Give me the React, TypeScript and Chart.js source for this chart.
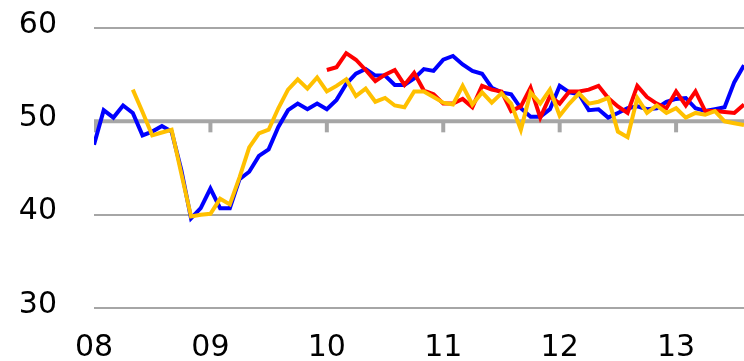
import React, { useEffect, useRef } from "react";
import { Chart, registerables } from "chart.js";

Chart.register(...registerables);

// Month index 0 = Jan 2008 ... 67 = Aug 2013
const yearTickIndex = [0, 12, 24, 36, 48, 60];
const yearTickLabels = ["08", "09", "10", "11", "12", "13"];
const yTicks = [30, 40, 50, 60];

const blueValues: (number | null)[] = [
  47.5, 51.2, 50.4, 51.7, 50.9, 48.5, 48.9, 49.5, 48.9, 44.8, 39.6, 40.7,
  42.8, 40.7, 40.7, 43.8, 44.6, 46.3, 47.0, 49.4, 51.2, 51.9, 51.3, 51.9,
  51.3, 52.3, 54.0, 55.1, 55.6, 54.9, 54.9, 53.9, 53.9, 54.6, 55.6, 55.4,
  56.6, 57.0, 56.1, 55.4, 55.1, 53.6, 53.1, 52.9, 51.4, 50.5, 50.5, 51.3,
  53.8, 53.1, 52.9, 51.2, 51.3, 50.4, 50.9, 51.4, 51.6, 51.3, 51.4, 52.1,
  52.4, 52.5, 51.4, 51.1, 51.3, 51.5, 54.2, 56.0,
];

const redValues: (number | null)[] = [
  null, null, null, null, null, null, null, null, null, null, null, null,
  null, null, null, null, null, null, null, null, null, null, null, null,
  55.5, 55.8, 57.3, 56.6, 55.5, 54.3, 55.0, 55.5, 53.9, 55.2, 53.3, 52.9,
  51.9, 51.9, 52.4, 51.5, 53.8, 53.4, 53.2, 51.1, 51.6, 53.6, 50.4, 52.7,
  51.9, 53.2, 53.2, 53.4, 53.8, 52.5, 51.6, 50.9, 53.8, 52.6, 51.9, 51.4,
  53.2, 51.7, 53.2, 51.1, 51.1, 51.0, 50.9, 51.8,
];

const yellowValues: (number | null)[] = [
  null, null, null, null, 53.4, 51.0, 48.5, 48.8, 49.1, 44.4, 39.8, 40.0,
  40.1, 41.7, 41.1, 44.0, 47.2, 48.7, 49.1, 51.4, 53.4, 54.5, 53.5, 54.7,
  53.2, 53.8, 54.5, 52.7, 53.5, 52.1, 52.5, 51.7, 51.5, 53.2, 53.2, 52.6,
  52.0, 51.8, 53.8, 51.8, 53.1, 52.0, 53.0, 51.9, 49.1, 53.1, 51.9, 53.4,
  50.6, 51.9, 53.0, 51.9, 52.1, 52.5, 48.9, 48.3, 52.5, 50.9, 51.7, 50.9,
  51.4, 50.4, 50.9, 50.7, 51.1, 50.0, 49.8, 49.6,
];

const GRID = "#a6a6a6";
const FONT = "DejaVu Sans";

const toPoints = (vals: (number | null)[]) =>
  vals.map((v, i) => ({ x: i, y: v }));

const baselinePlugin = {
  id: "baseline50",
  beforeDatasetsDraw(chart: any) {
    const { ctx, scales, chartArea } = chart;
    const y = scales.y.getPixelForValue(50);
    ctx.save();
    ctx.strokeStyle = GRID;
    ctx.lineWidth = 4;
    ctx.beginPath();
    ctx.moveTo(chartArea.left, y);
    ctx.lineTo(chartArea.right, y);
    ctx.stroke();
    yearTickIndex.forEach((t) => {
      const x = Math.max(scales.x.getPixelForValue(t), chartArea.left + 2);
      ctx.beginPath();
      ctx.moveTo(x, y);
      ctx.lineTo(x, y + 11);
      ctx.stroke();
    });
    ctx.restore();
  },
};

export default function App() {
  const ref = useRef<HTMLCanvasElement | null>(null);

  useEffect(() => {
    if (!ref.current) return;
    const chart = new Chart(ref.current, {
      type: "line",
      data: {
        datasets: [
          {
            data: toPoints(yellowValues),
            borderColor: "#ffc000",
            borderWidth: 4,
            pointRadius: 0,
            order: 1,
          },
          {
            data: toPoints(redValues),
            borderColor: "#ff0000",
            borderWidth: 4,
            pointRadius: 0,
            order: 2,
          },
          {
            data: toPoints(blueValues),
            borderColor: "#0000ff",
            borderWidth: 4,
            pointRadius: 0,
            order: 3,
          },
        ],
      },
      options: {
        responsive: false,
        animation: false,
        devicePixelRatio: 1,
        layout: { padding: { top: 28, right: 0, left: 0, bottom: 0 } },
        plugins: { legend: { display: false }, tooltip: { enabled: false } },
        scales: {
          x: {
            type: "linear",
            min: 0,
            max: 67,
            grid: { display: false },
            border: { display: false },
            afterBuildTicks: (scale: any) => {
              scale.ticks = yearTickIndex.map((v) => ({ value: v }));
            },
            afterFit: (scale: any) => {
              scale.height = 53;
              scale.paddingLeft = 0;
              scale.paddingRight = 0;
            },
            ticks: {
              autoSkip: false,
              maxRotation: 0,
              padding: 14,
              color: "#000",
              font: { family: FONT, size: 30 },
              callback: (v: any) => {
                const i = yearTickIndex.indexOf(Number(v));
                return i >= 0 ? yearTickLabels[i] : "";
              },
            },
          },
          y: {
            min: 30,
            max: 60,
            afterBuildTicks: (scale: any) => {
              scale.ticks = yTicks.map((v) => ({ value: v }));
            },
            afterFit: (scale: any) => {
              scale.width = 94;
              scale.paddingTop = 0;
              scale.paddingBottom = 0;
            },
            grid: {
              color: (c: any) => (c.tick && c.tick.value === 50 ? "rgba(0,0,0,0)" : GRID),
              lineWidth: 2,
              drawTicks: false,
            },
            border: { display: false },
            ticks: {
              padding: 37,
              labelOffset: -3,
              color: "#000",
              font: { family: FONT, size: 30 },
            },
          },
        },
      },
      plugins: [baselinePlugin],
    } as any);
    return () => chart.destroy();
  }, []);

  return (
    <div style={{ position: "fixed", left: 0, top: 0, width: 744, height: 361, background: "#fff" }}>
      <canvas ref={ref} width={744} height={361} style={{ display: "block" }} />
    </div>
  );
}
